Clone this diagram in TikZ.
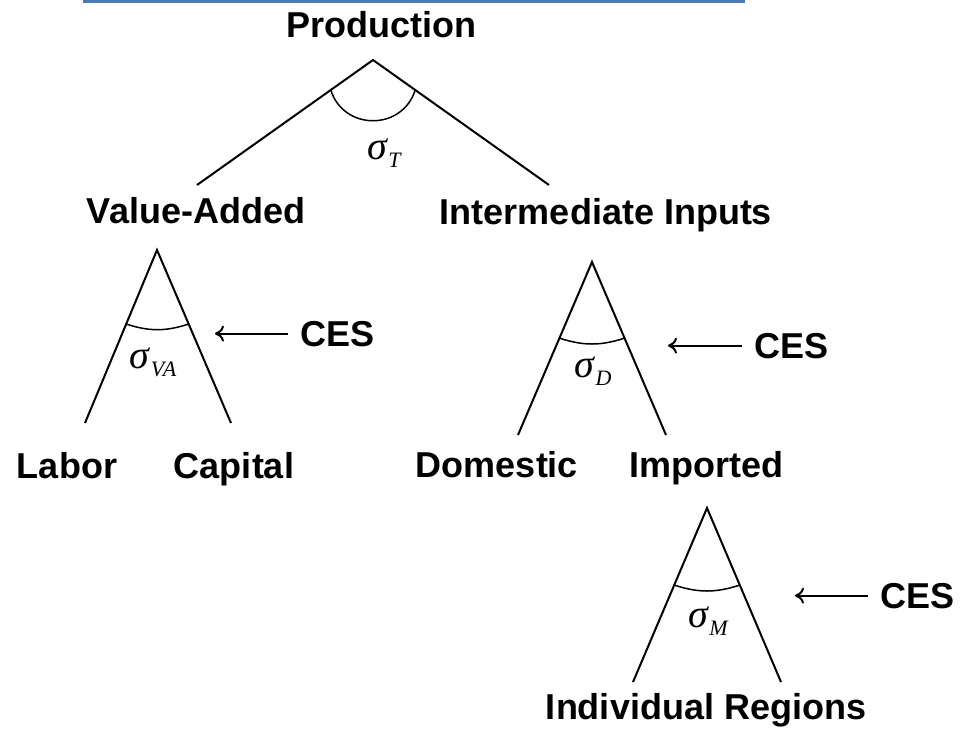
\documentclass[tikz,border=0pt]{standalone}
\usepackage{fontspec}
\setmainfont{Liberation Sans}
\newfontfamily\sigmafont{Liberation Serif}
\usetikzlibrary{arrows.meta,calc}
\definecolor{barblue}{RGB}{74,122,176}
\tikzset{
  lbl/.style={font=\fontsize{36}{40}\selectfont\bfseries, inner sep=0pt, anchor=base},
  ceslbl/.style={font=\fontsize{36}{40}\selectfont\bfseries, inner xsep=12pt, inner ysep=0pt, anchor=base west},
  leg/.style={line width=2pt},
  elast/.style={line width=1.5pt},
  cesarrow/.style={line width=2pt, -{To[length=9pt,width=16pt]}},
  topbar/.style={line width=3pt, draw=barblue}
}
\newcommand{\sigmalab}[1]{{\sigmafont\itshape\fontsize{40}{40}\selectfont σ\kern1.5pt\raisebox{-8pt}{\fontsize{22}{22}\selectfont #1}}}

\begin{document}
\begin{tikzpicture}[x=1pt,y=-1pt]
\useasboundingbox (0,0) rectangle (967,733);
\draw[topbar] (83,1.5) -- (745,1.5);
% Production nest
\node[lbl] (prod) at (381,38) {Production};
\coordinate (apexT) at (373,60);
\coordinate (footTl) at (197,185);
\coordinate (footTr) at (549,185);
\draw[leg] (footTl) -- (apexT) -- (footTr);
\coordinate (arcTl) at ($(apexT)!0.24!(footTl)$);
\coordinate (arcTr) at ($(apexT)!0.24!(footTr)$);
\draw[elast] (arcTl) .. controls +(13,41) and +(-13,41) .. (arcTr);
\node[anchor=base, inner sep=0pt] (sigT) at (384,160) {\sigmalab{T}};
\node[lbl] (va) at (196,223) {Value-Added};
\node[lbl] (ii) at (606,225) {Intermediate Inputs};
% Value-added nest
\coordinate (apexVA) at (157,250);
\coordinate (footVAl) at (85,423);
\coordinate (footVAr) at (231,423);
\draw[leg] (footVAl) -- (apexVA) -- (footVAr);
\coordinate (arcVAl) at ($(apexVA)!0.428!(footVAl)$);
\coordinate (arcVAr) at ($(apexVA)!0.428!(footVAr)$);
\draw[elast] (arcVAl) to[bend right=18] (arcVAr);
\node[anchor=base, inner sep=0pt] (sigVA) at (153,368) {\sigmalab{VA}};
\node[ceslbl] (cesVA) at (288,346) {CES};
\coordinate (headVA) at (215,329);
\draw[cesarrow] (cesVA.west) -- (cesVA.west -| headVA);
\node[lbl] (labor) at (67,478) {Labor};
\node[lbl] (capital) at (234,478) {Capital};
% Domestic / imported nest
\coordinate (apexD) at (592,262);
\coordinate (footDl) at (518,435);
\coordinate (footDr) at (666,435);
\draw[leg] (footDl) -- (apexD) -- (footDr);
\coordinate (arcDl) at ($(apexD)!0.44!(footDl)$);
\coordinate (arcDr) at ($(apexD)!0.44!(footDr)$);
\draw[elast] (arcDl) to[bend right=18] (arcDr);
\node[anchor=base, inner sep=0pt] (sigD) at (593,377) {\sigmalab{D}};
\node[ceslbl] (cesD) at (742,358) {CES};
\coordinate (headD) at (668,342);
\draw[cesarrow] (cesD.west) -- (cesD.west -| headD);
\node[lbl] (dom) at (497,477) {Domestic};
\node[lbl] (imp) at (706,477) {Imported};
% Import regions nest
\coordinate (apexM) at (707,508);
\coordinate (footMl) at (633,682);
\coordinate (footMr) at (781,682);
\draw[leg] (footMl) -- (apexM) -- (footMr);
\coordinate (arcMl) at ($(apexM)!0.443!(footMl)$);
\coordinate (arcMr) at ($(apexM)!0.443!(footMr)$);
\draw[elast] (arcMl) to[bend right=18] (arcMr);
\node[anchor=base, inner sep=0pt] (sigM) at (708,627) {\sigmalab{M}};
\node[ceslbl] (cesM) at (868,608) {CES};
\coordinate (headM) at (795,597);
\draw[cesarrow] (cesM.west) -- (cesM.west -| headM);
\node[lbl] (regions) at (706,719) {Individual Regions};
\end{tikzpicture}
\end{document}
